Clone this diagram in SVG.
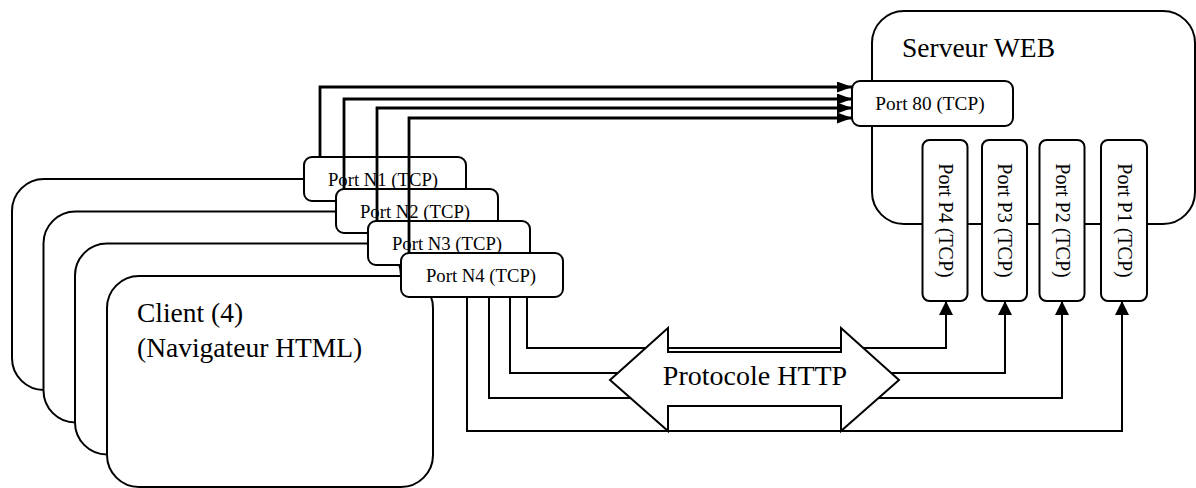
<svg xmlns="http://www.w3.org/2000/svg" width="1196" height="488" viewBox="0 0 1196 488">
<style>
.box{fill:#fff;stroke:#000;stroke-width:2}
.t{font-family:"Liberation Serif","Times New Roman",serif;fill:#000}
.big{font-size:27.5px}
.port{font-size:18.7px;text-anchor:middle}
.pv{font-size:20px;text-anchor:middle}
.top{fill:none;stroke:#000;stroke-width:2.8}
.bot{fill:none;stroke:#000;stroke-width:2}
</style>
<defs>
<marker id="ahT" viewBox="0 0 15 11" refX="15" refY="5.5" markerWidth="15" markerHeight="11" markerUnits="userSpaceOnUse" orient="auto"><path d="M0,0 L15,5.5 L0,11 z" fill="#000"/></marker>
<marker id="ahB" viewBox="0 0 14 14" refX="14" refY="7" markerWidth="14" markerHeight="14" markerUnits="userSpaceOnUse" orient="auto"><path d="M0,0 L14,7 L0,14 z" fill="#000"/></marker>
</defs>
<g id="client1"><rect class="box" x="12" y="179" width="326" height="211" rx="32"/></g>
<g id="client2"><rect class="box" x="43.5" y="211.5" width="326" height="211" rx="32"/></g>
<g id="client3"><rect class="box" x="75" y="243.5" width="326" height="211" rx="32"/></g>
<g id="client4"><rect class="box" x="107" y="276" width="326" height="211" rx="32"/>
<text class="t big" x="137" y="322">Client (4)</text>
<text class="t big" x="137" y="357">(Navigateur HTML)</text></g>
<g id="server"><rect class="box" x="872" y="11" width="323" height="213" rx="32"/>
<text class="t big" x="902" y="57">Serveur WEB</text></g>
<g id="portP4"><rect class="box" x="922.5" y="140" width="45" height="161" rx="7"/>
<text class="t pv" transform="translate(945,220.5) rotate(90)" y="6.5">Port P4 (TCP)</text></g>
<g id="portP3"><rect class="box" x="982" y="140" width="45" height="161" rx="7"/>
<text class="t pv" transform="translate(1004.5,220.5) rotate(90)" y="6.5">Port P3 (TCP)</text></g>
<g id="portP2"><rect class="box" x="1039.5" y="140" width="45" height="161" rx="7"/>
<text class="t pv" transform="translate(1062,220.5) rotate(90)" y="6.5">Port P2 (TCP)</text></g>
<g id="portP1"><rect class="box" x="1101" y="140" width="46" height="161" rx="7"/>
<text class="t pv" transform="translate(1124,220.5) rotate(90)" y="6.5">Port P1 (TCP)</text></g>
<g id="port80"><rect class="box" x="852" y="81" width="161" height="45" rx="8"/>
<text class="t port" style="font-size:19.3px" x="930" y="110">Port 80 (TCP)</text></g>
<g id="portN1"><rect class="box" x="304" y="157" width="162" height="44" rx="8"/>
<text class="t port" x="383" y="185.5">Port N1 (TCP)</text></g>
<g id="portN2"><rect class="box" x="336" y="189" width="162" height="44" rx="8"/>
<text class="t port" x="415" y="217.5">Port N2 (TCP)</text></g>
<g id="portN3"><rect class="box" x="368" y="221" width="162" height="44" rx="8"/>
<text class="t port" x="447" y="249.5">Port N3 (TCP)</text></g>
<g id="portN4"><rect class="box" x="401" y="253" width="162" height="44" rx="8"/>
<text class="t port" x="481" y="281.5">Port N4 (TCP)</text></g>
<g id="connectors">
<path class="top" d="M320,157 V87 H852" marker-end="url(#ahT)"/>
<path class="top" d="M344,189 V99 H852" marker-end="url(#ahT)"/>
<path class="top" d="M377,221 V108 H852" marker-end="url(#ahT)"/>
<path class="top" d="M409,253 V118 H852" marker-end="url(#ahT)"/>
<path class="bot" d="M527,297 V348 H946 V301" marker-end="url(#ahB)"/>
<path class="bot" d="M510,297 V373 H1005 V301" marker-end="url(#ahB)"/>
<path class="bot" d="M489,297 V398 H1062 V301" marker-end="url(#ahB)"/>
<path class="bot" d="M467,297 V431 H1122 V301" marker-end="url(#ahB)"/>
</g>
<g id="http">
<polygon class="box" points="610,380 668,328 668,352 841,352 841,328 899,380 841,431 841,406 668,406 668,431"/>
<text class="t" style="font-size:28px" x="755" y="385" text-anchor="middle">Protocole HTTP</text>
</g>
</svg>
